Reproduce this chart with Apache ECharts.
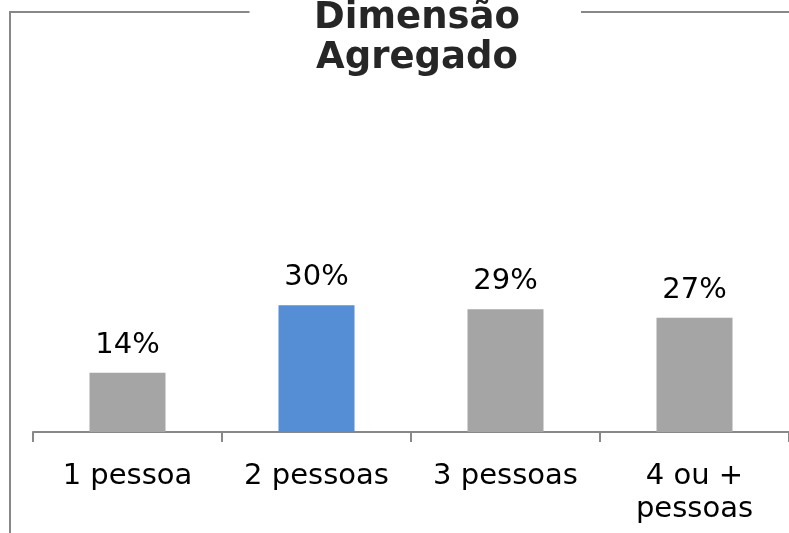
<!DOCTYPE html>
<html>
<head>
<meta charset="utf-8">
<script src="https://cdn.jsdelivr.net/npm/echarts@6/dist/echarts.min.js"></script>
<style>
html,body{margin:0;padding:0;background:#fff;}
#c{width:789px;height:533px;}
</style>
</head>
<body>
<div id="c"></div>
<script>
const titleText = 'Dimensão\nAgregado';
const categories = ['1 pessoa', '2 pessoas', '3 pessoas', '4 ou +\npessoas'];
const values = [14, 30, 29, 27];
const highlightIndex = 1;

const chart = echarts.init(document.getElementById('c'), null, {renderer: 'canvas'});
const frameColor = '#888888';
chart.setOption({
  animation: false,
  backgroundColor: '#ffffff',
  graphic: [
    {type: 'line', shape: {x1: 10, y1: 12, x2: 249.5, y2: 12}, style: {stroke: frameColor, lineWidth: 2}},
    {type: 'line', shape: {x1: 581, y1: 12, x2: 789, y2: 12}, style: {stroke: frameColor, lineWidth: 2}},
    {type: 'line', shape: {x1: 10, y1: 11, x2: 10, y2: 533}, style: {stroke: frameColor, lineWidth: 2}},
    {type: 'text', x: 417, y: -2, style: {
      text: titleText, textAlign: 'center', textVerticalAlign: 'top',
      font: 'bold 37px "DejaVu Sans"', fill: '#262626', lineHeight: 40
    }}
  ],
  grid: {left: 33, right: -1, top: 136, bottom: 101, containLabel: false},
  xAxis: {
    type: 'category',
    data: categories,
    axisLine: {show: true, lineStyle: {color: frameColor, width: 2}},
    axisTick: {show: true, length: 10, alignWithLabel: false, interval: 0, lineStyle: {color: frameColor, width: 2}},
    axisLabel: {
      interval: 0, margin: 28, color: '#000',
      fontFamily: 'DejaVu Sans', fontSize: 29, lineHeight: 33
    }
  },
  yAxis: {type: 'value', min: 0, max: 70, show: false, splitLine: {show: false}},
  series: [{
    type: 'bar',
    data: values,
    barWidth: 76,
    itemStyle: {color: p => p.dataIndex === highlightIndex ? '#558ED5' : '#A5A5A5'},
    label: {
      show: true, position: 'top', distance: 13,
      formatter: '{c}%', color: '#000',
      fontFamily: 'DejaVu Sans', fontSize: 29
    }
  }]
});
</script>
</body>
</html>
